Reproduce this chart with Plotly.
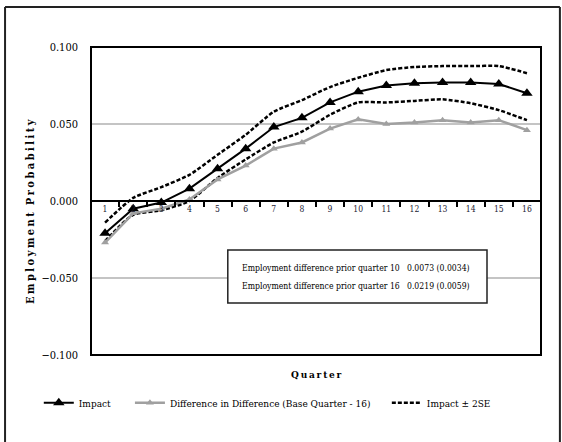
import plotly.graph_objects as go

# Quarters and estimated series
quarters = [str(q) for q in range(1, 17)]
impact = [-0.021, -0.005, -0.001, 0.008, 0.021, 0.034, 0.048, 0.054, 0.064, 0.071,
          0.075, 0.0765, 0.077, 0.077, 0.076, 0.070]
did = [-0.027, -0.008, -0.005, 0.001, 0.014, 0.023, 0.034, 0.038, 0.047, 0.053,
       0.050, 0.051, 0.0525, 0.051, 0.0525, 0.046]
upper_2se = [-0.014, 0.002, 0.009, 0.017, 0.030, 0.043, 0.058, 0.0655, 0.074, 0.080,
             0.085, 0.087, 0.0876, 0.0876, 0.0876, 0.083]
lower_2se = [-0.026, -0.009, -0.006, 0.000, 0.015, 0.027, 0.038, 0.045, 0.056, 0.064,
             0.064, 0.065, 0.066, 0.0635, 0.059, 0.0525]
y_ticks = [-0.1, -0.05, 0.0, 0.05, 0.1]

box_labels = ["Employment difference prior quarter 10", "Employment difference prior quarter 16"]
box_values = ["0.0073 (0.0034)", "0.0219 (0.0059)"]

SERIF = "DejaVu Serif Condensed, DejaVu Serif, serif"
GRAY = "#a0a0a0"
NBSP = "\u00a0"


def spaced(text, sep="\u2009"):
    """Spread the letters of a label apart."""
    return sep.join(text)


fig = go.Figure()
fig.add_trace(go.Scatter(
    x=quarters, y=upper_2se, mode="lines", name="Impact \u00b1 2SE",
    legendgroup="se", legendrank=3,
    line=dict(color="black", width=2.5, dash="4px,2px", shape="spline", smoothing=0.6),
))
fig.add_trace(go.Scatter(
    x=quarters, y=lower_2se, mode="lines", name="Impact \u00b1 2SE",
    legendgroup="se", showlegend=False,
    line=dict(color="black", width=2.5, dash="4px,2px", shape="spline", smoothing=0.6),
))
fig.add_trace(go.Scatter(
    x=quarters, y=did, mode="lines+markers", legendrank=2,
    name="Difference in Difference (Base Quarter - 16)" + NBSP * 4,
    line=dict(color=GRAY, width=2.5),
    marker=dict(symbol="triangle-up", size=7, color=GRAY),
))
fig.add_trace(go.Scatter(
    x=quarters, y=impact, mode="lines+markers", name="Impact" + NBSP * 5, legendrank=1,
    line=dict(color="black", width=2),
    marker=dict(symbol="triangle-up", size=10, color="black"),
))

# Outer chart border (left, top, right) and plot frame
for x0, y0, x1, y1 in [(-0.191, -3, -0.191, 1.13), (-0.191, 1.13, 1.042, 1.13),
                       (1.042, 1.13, 1.042, -3)]:
    fig.add_shape(type="line", xref="paper", yref="paper", x0=x0, y0=y0, x1=x1, y1=y1,
                  line=dict(color="#222", width=2), layer="below")
fig.add_shape(type="rect", xref="paper", yref="paper",
              x0=0, x1=1, y0=0, y1=1, line=dict(color="black", width=2))

# Estimates box
fig.add_shape(type="rect", xref="paper", yref="paper",
              x0=0.304, x1=0.88, y0=0.169, y1=0.341,
              line=dict(color="#222", width=1.5), fillcolor="white")
for lbl, val, yp in zip(box_labels, box_values, [0.2825, 0.224]):
    fig.add_annotation(xref="paper", yref="paper", x=0.331, y=yp, text=lbl,
                       showarrow=False, xanchor="left", yanchor="middle",
                       font=dict(family=SERIF, size=8.6, color="black"))
    fig.add_annotation(xref="paper", yref="paper", x=0.698, y=yp, text=val,
                       showarrow=False, xanchor="left", yanchor="middle",
                       font=dict(family=SERIF, size=8.6, color="black"))

# Axis titles
fig.add_annotation(xref="paper", yref="paper", x=0.5, y=-0.04,
                   text="<b>" + spaced("Quarter") + "</b>",
                   showarrow=False, yanchor="top",
                   font=dict(family=SERIF, size=10, color="black"))
fig.add_annotation(xref="paper", yref="paper", x=-0.1356, y=0.4675, textangle=-90,
                   text="<b>" + spaced("Employment", "\u2005") + NBSP * 2
                        + spaced("Probability", "\u2005") + "</b>",
                   showarrow=False, xanchor="center", yanchor="middle",
                   font=dict(family=SERIF, size=11, color="black"))

fig.update_layout(
    width=562, height=442,
    margin=dict(l=91, r=21, t=47, b=87),
    plot_bgcolor="white", paper_bgcolor="white",
    font=dict(family=SERIF, color="black"),
    xaxis=dict(
        type="category", categoryorder="array", categoryarray=quarters,
        range=[-0.5, 15.5], anchor="free", position=0.5,
        showline=True, linecolor="black", linewidth=2,
        ticks="outside", tickson="boundaries", ticklen=5, tickwidth=1.5, tickcolor="black",
        tickfont=dict(family=SERIF, size=8.5, color="#223"),
        showgrid=False, zeroline=False,
    ),
    yaxis=dict(
        range=[-0.1, 0.1], tickvals=y_ticks, tickformat=".3f",
        showgrid=True, gridcolor="#c4c4c4", gridwidth=1.5, zeroline=False,
        tickfont=dict(family=SERIF, size=11, color="black"),
        ticks="", ticklabelstandoff=12,
    ),
    legend=dict(
        orientation="h", x=-0.116, y=-0.155, xanchor="left", yanchor="middle",
        font=dict(family=SERIF, size=10, color="black"),
        traceorder="normal", itemwidth=30, bgcolor="rgba(0,0,0,0)",
    ),
)

fig.write_html("out.html")
